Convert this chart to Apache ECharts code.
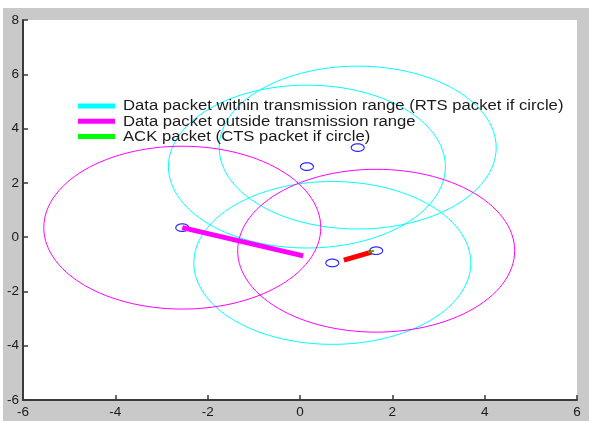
<!DOCTYPE html>
<html>
<head>
<meta charset="utf-8">
<script src="https://cdn.jsdelivr.net/npm/echarts@6/dist/echarts.min.js"></script>
<style>
  html, body { margin: 0; padding: 0; background: #fff; }
  #chart { width: 589px; height: 421px; }
</style>
</head>
<body>
<div id="chart"></div>
<script>
// Node positions
const nodeX = [-2.55, 0.15, 1.25, 0.70, 1.65];
const nodeY = [0.35, 2.60, 3.30, -0.95, -0.50];
const nodeRadius = 0.14;

// Transmission ranges: [centerX, centerY, radius]
const rtsCircles = [
  [1.25, 3.30, 3.0],
  [0.15, 2.60, 3.0],
  [0.70, -0.95, 3.0]
];
const outsideCircles = [
  [-2.55, 0.35, 3.0],
  [1.65, -0.50, 3.0]
];

// Packets in flight: [x1, y1, x2, y2]
const outsidePacket = [-2.55, 0.35, 0.07, -0.69];
const redPacket = [0.95, -0.85, 1.55, -0.55];
const ackPacket = [1.48, -0.56, 1.60, -0.50];

// Tick labels
const xTicks = [-6, -4, -2, 0, 2, 4, 6];
const yTicks = [-6, -4, -2, 0, 2, 4, 6, 8];

const legendNames = [
  'Data packet within transmission range (RTS packet if circle)',
  'Data packet outside transmission range',
  'ACK packet (CTS packet if circle)'
];
const legendColors = ['#00ffff', '#ff00ff', '#00ff00'];

const FONT = "'Liberation Sans', Arial, sans-serif";

// Circle of radius r in data units, traced through the axis scales
function circleItem(color, width) {
  return function (params, api) {
    const cx = api.value(0), cy = api.value(1), r = api.value(2);
    const pts = [];
    const n = 120;
    for (let i = 0; i <= n; i++) {
      const t = (i / n) * Math.PI * 2;
      pts.push(api.coord([cx + r * Math.cos(t), cy + r * Math.sin(t)]));
    }
    return {
      type: 'polyline',
      shape: { points: pts },
      style: { stroke: color, lineWidth: width, fill: null }
    };
  };
}

function segmentItem(color, width) {
  return function (params, api) {
    const a = api.coord([api.value(0), api.value(1)]);
    const b = api.coord([api.value(2), api.value(3)]);
    return {
      type: 'line',
      shape: { x1: a[0], y1: a[1], x2: b[0], y2: b[1] },
      style: { stroke: color, lineWidth: width, lineCap: 'butt' }
    };
  };
}

const nodeData = nodeX.map((x, i) => [x, nodeY[i], nodeRadius]);

// Legend drawn as line swatches with horizontally widened labels
const legendGraphics = [];
legendNames.forEach((name, i) => {
  const cy = 106 + i * 15.2;
  legendGraphics.push({
    type: 'rect', silent: true, z: 100,
    shape: { x: 78, y: cy - 2.5, width: 37, height: 5 },
    style: { fill: legendColors[i] }
  });
  legendGraphics.push({
    type: 'text', silent: true, z: 100,
    x: 123, y: cy + 0.5, scaleX: 1.19,
    style: {
      text: name, x: 0, y: 0,
      font: "14px 'Liberation Sans', Arial, sans-serif",
      fill: '#1a1a1a', verticalAlign: 'middle', align: 'left'
    }
  });
});

const chart = echarts.init(document.getElementById('chart'), null, { renderer: 'canvas' });

const axisCommon = {
  type: 'value',
  interval: 2,
  splitLine: { show: false },
  axisLine: { show: true, onZero: false, lineStyle: { color: '#3a3a3a', width: 2 } },
  axisTick: { show: true, inside: true, length: 5, lineStyle: { color: '#3a3a3a', width: 1.5 } },
  axisLabel: { color: '#1a1a1a', fontSize: 13.5, fontFamily: FONT, showMinLabel: true, showMaxLabel: true }
};

chart.setOption({
  backgroundColor: '#ffffff',
  animation: false,
  graphic: [{
    type: 'rect',
    z: -10,
    silent: true,
    shape: { x: 3, y: 8, width: 600, height: 420 },
    style: { fill: '#c9c9c9' }
  }].concat(legendGraphics),
  grid: {
    left: 23, right: 12, top: 20, bottom: 21,
    show: true, backgroundColor: '#ffffff', borderWidth: 0
  },
  xAxis: Object.assign({}, axisCommon, {
    min: xTicks[0], max: xTicks[xTicks.length - 1],
    axisLabel: Object.assign({}, axisCommon.axisLabel, { margin: 5 })
  }),
  yAxis: Object.assign({}, axisCommon, {
    min: yTicks[0], max: yTicks[yTicks.length - 1],
    axisLabel: Object.assign({}, axisCommon.axisLabel, { margin: 4 })
  }),
  series: [
    {
      name: legendNames[0], type: 'custom', itemStyle: { color: '#00ffff' },
      renderItem: circleItem('#00ffff', 1), encode: { x: 0, y: 1 },
      data: rtsCircles, z: 2
    },
    {
      name: legendNames[1], type: 'custom', itemStyle: { color: '#ff00ff' },
      renderItem: circleItem('#ff00ff', 1), encode: { x: 0, y: 1 },
      data: outsideCircles, z: 2
    },
    {
      name: 'nodes', type: 'custom', itemStyle: { color: '#0000ff' },
      renderItem: circleItem('#2a2aff', 1.2), encode: { x: 0, y: 1 },
      data: nodeData, z: 3
    },
    {
      name: legendNames[1], type: 'custom', itemStyle: { color: '#ff00ff' },
      renderItem: segmentItem('#ff00ff', 5), encode: { x: [0, 2], y: [1, 3] },
      data: [outsidePacket], z: 4
    },
    {
      name: 'packet', type: 'custom', itemStyle: { color: '#ff0000' },
      renderItem: segmentItem('#ff0000', 5), encode: { x: [0, 2], y: [1, 3] },
      data: [redPacket], z: 4
    },
    {
      name: legendNames[2], type: 'custom', itemStyle: { color: '#00ff00' },
      renderItem: segmentItem('#33aa00', 2), encode: { x: [0, 2], y: [1, 3] },
      data: [ackPacket], z: 5
    }
  ]
});
</script>
</body>
</html>
